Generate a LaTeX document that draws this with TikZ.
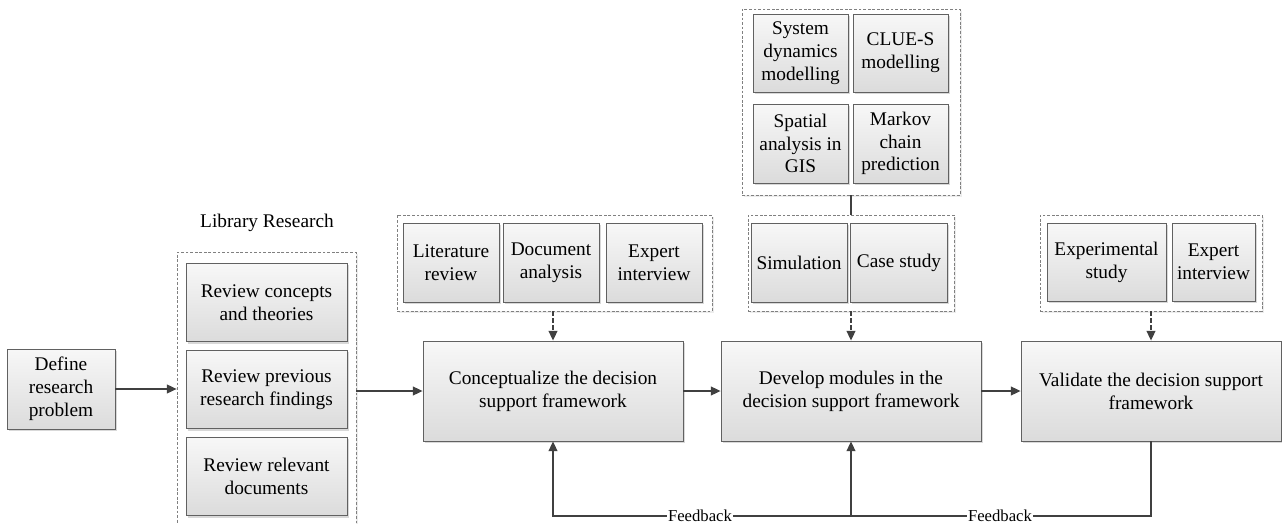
\documentclass[tikz,border=0pt]{standalone}
\usepackage{fontspec}
\setmainfont{Liberation Serif}
\usetikzlibrary{arrows.meta,shadows}

\tikzset{
	box/.style={draw=black!62, line width=0.5pt, top color=white!97!black, bottom color=white!86!black,
		drop shadow={shadow xshift=1.1pt, shadow yshift=-1.1pt, opacity=0.3},
		align=center, inner sep=1pt, font=\fontsize{11}{13}\selectfont},
	mainbox/.style={box, minimum width=5.2cm, minimum height=2cm},
	libbox/.style={box, minimum width=3.22cm, minimum height=1.57cm},
	toolbox/.style={box, minimum height=1.58cm},
	group/.style={draw=black!50, line width=0.45pt, dash pattern=on 1.6pt off 1pt, fill=white,
		drop shadow={shadow xshift=1pt, shadow yshift=-1pt, opacity=0.15}},
	line/.style={draw=black!75, line width=0.8pt},
	arrow/.style={line, -{Triangle[length=5.5pt,width=5pt]}},
	dasharrow/.style={arrow, dash pattern=on 2.5pt off 1.5pt},
	fblabel/.style={fill=white, inner sep=0.6pt, font=\fontsize{9.5}{11}\selectfont}
}

\begin{document}
\begin{tikzpicture}[x=0.02cm, y=-0.02cm]
		
		%Page frame
		\useasboundingbox (0,0) rectangle (1282,524);
		\clip (0,0) rectangle (1282,524);
		
		%Defining the problem
		\node[box, minimum width=2.16cm, minimum height=1.6cm] (def) at (61,389) {Define\\research\\problem};
		
		%Library research
		\node[font=\fontsize{11}{13}\selectfont] (libtitle) at (267,223) {Library Research};
		\node[group, anchor=north, minimum width=3.58cm, minimum height=6.5cm] (libgrp) at (266.5,252) {};
		\node[libbox] (rev1) at (266.5,302.5) {Review concepts\\and theories};
		\node[libbox] (rev2) at (266.5,389.5) {Review previous\\research findings};
		\node[libbox] (rev3) at (266.5,476.5) {Review relevant\\documents};
		
		%Methods for the framework
		\node[group, minimum width=6.3cm, minimum height=1.92cm] (congrp) at (554.5,263) {};
		\node[toolbox, minimum width=1.92cm] (lit) at (451,262.5) {Literature\\review};
		\node[toolbox, minimum width=1.92cm] (doc) at (551,262.5) {Document\\analysis};
		\node[toolbox, minimum width=1.92cm] (exp1) at (654,262.5) {Expert\\interview};
		
		%Modelling tools
		\node[group, minimum width=4.36cm, minimum height=3.72cm] (topgrp) at (851,102) {};
		\node[toolbox, minimum width=1.9cm, minimum height=1.56cm] (sd) at (800.5,53) {System\\dynamics\\modelling};
		\node[toolbox, minimum width=1.9cm, minimum height=1.56cm] (clue) at (900.5,53) {CLUE-S\\modelling};
		\node[toolbox, minimum width=1.9cm] (gis) at (800.5,143.5) {Spatial\\analysis in\\GIS};
		\node[toolbox, minimum width=1.9cm] (markov) at (900.5,143.5) {Markov\\chain\\prediction};
		
		%Methods for the modules
		\node[group, minimum width=4.12cm, minimum height=1.92cm] (simgrp) at (851,263) {};
		\node[toolbox, minimum width=1.92cm] (sim) at (799,262.5) {Simulation};
		\node[toolbox, minimum width=1.94cm] (case) at (899,262.5) {Case study};
		
		%Methods for the validation
		\node[group, minimum width=4.44cm, minimum height=1.92cm] (valgrp) at (1151,263) {};
		\node[toolbox, minimum width=2.38cm, minimum height=1.56cm] (expst) at (1106.5,262) {Experimental\\study};
		\node[toolbox, minimum width=1.66cm, minimum height=1.56cm] (exp2) at (1213.5,262) {Expert\\interview};
		
		%Main stages
		\node[mainbox] (con) at (553,391) {Conceptualize the decision\\support framework};
		\node[mainbox] (dev) at (851,391) {Develop modules in the\\decision support framework};
		\node[mainbox] (val) at (1151,391) {Validate the decision support\\framework};
		
		%Drawing the flow
		\draw[arrow] (def) -- (def -| libgrp.west);
		\draw[arrow] (libgrp.east |- con) -- (con);
		\draw[arrow] (con) -- (dev);
		\draw[arrow] (dev) -- (val);
		\draw[dasharrow] (con.north |- congrp.south) -- (con.north);
		\draw[line] (topgrp.south) -- (simgrp.north);
		\draw[dasharrow] (simgrp.south) -- (dev.north);
		\draw[dasharrow] (valgrp.south) -- (val.north);
		
		%Feedback loop
		\coordinate (fbmid) at (851,516);
		\draw[line] (val.south) |- (fbmid);
		\draw[arrow] (fbmid) -| (con.south);
		\draw[arrow] (fbmid) -- (dev.south);
		\node[fblabel] (fb1) at (700,516) {Feedback};
		\node[fblabel] (fb2) at (1000,516) {Feedback};
	\end{tikzpicture}
\end{document}
